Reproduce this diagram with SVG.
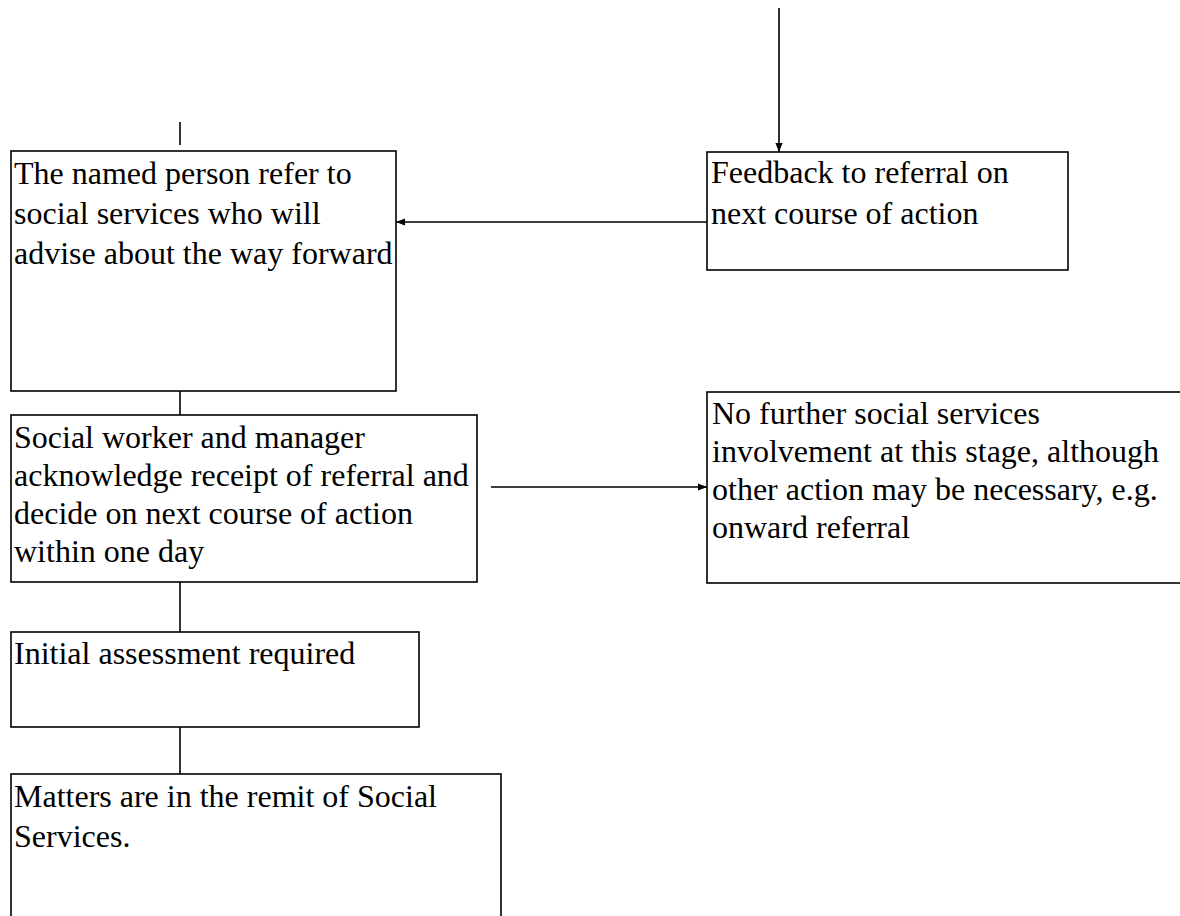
<svg xmlns="http://www.w3.org/2000/svg" width="1180" height="916" viewBox="0 0 1180 916">
<style>
.box{fill:#fff;stroke:#000;stroke-width:1.6}
.t{font-family:"Liberation Serif","Times New Roman",serif;font-size:32px;fill:#000}
.c{stroke:#000;stroke-width:1.6;fill:none}
</style>
<defs>
<marker id="ah" viewBox="0 0 10 10" refX="10" refY="5" markerWidth="9" markerHeight="9" markerUnits="userSpaceOnUse" orient="auto">
<path d="M0,1 L10,5 L0,9 Z" fill="#000"/>
</marker>
</defs>
<rect width="1180" height="916" fill="#fff"/>
<g id="connectors">
<line class="c" x1="180" y1="122" x2="180" y2="145"/>
<line class="c" x1="180" y1="391" x2="180" y2="415"/>
<line class="c" x1="180" y1="582" x2="180" y2="632"/>
<line class="c" x1="180" y1="727" x2="180" y2="774"/>
<line class="c" x1="779" y1="8" x2="779" y2="152" marker-end="url(#ah)"/>
<line class="c" x1="707" y1="222" x2="396" y2="222" marker-end="url(#ah)"/>
<line class="c" x1="491" y1="487" x2="707" y2="487" marker-end="url(#ah)"/>
</g>
<g id="n1">
<rect class="box" x="11" y="151" width="385" height="240"/>
<text class="t" x="14" y="184">The named person refer to</text>
<text class="t" x="14" y="224">social services who will</text>
<text class="t" x="14" y="264">advise about the way forward</text>
</g>
<g id="n2">
<rect class="box" x="707" y="152" width="361" height="118"/>
<text class="t" x="711" y="183">Feedback to referral on</text>
<text class="t" x="711" y="224">next course of action</text>
</g>
<g id="n3">
<rect class="box" x="11" y="415" width="466" height="167"/>
<text class="t" x="14" y="448">Social worker and manager</text>
<text class="t" x="14" y="486">acknowledge receipt of referral and</text>
<text class="t" x="14" y="524">decide on next course of action</text>
<text class="t" x="14" y="562">within one day</text>
</g>
<g id="n4">
<rect class="box" x="707" y="392" width="490" height="191"/>
<text class="t" x="712" y="424">No further social services</text>
<text class="t" x="712" y="462">involvement at this stage, although</text>
<text class="t" x="712" y="500">other action may be necessary, e.g.</text>
<text class="t" x="712" y="538">onward referral</text>
</g>
<g id="n5">
<rect class="box" x="11" y="632" width="408" height="95"/>
<text class="t" x="14" y="664">Initial assessment required</text>
</g>
<g id="n6">
<rect class="box" x="11" y="774" width="490" height="160"/>
<text class="t" x="14" y="807">Matters are in the remit of Social</text>
<text class="t" x="14" y="847">Services.</text>
</g>
</svg>
